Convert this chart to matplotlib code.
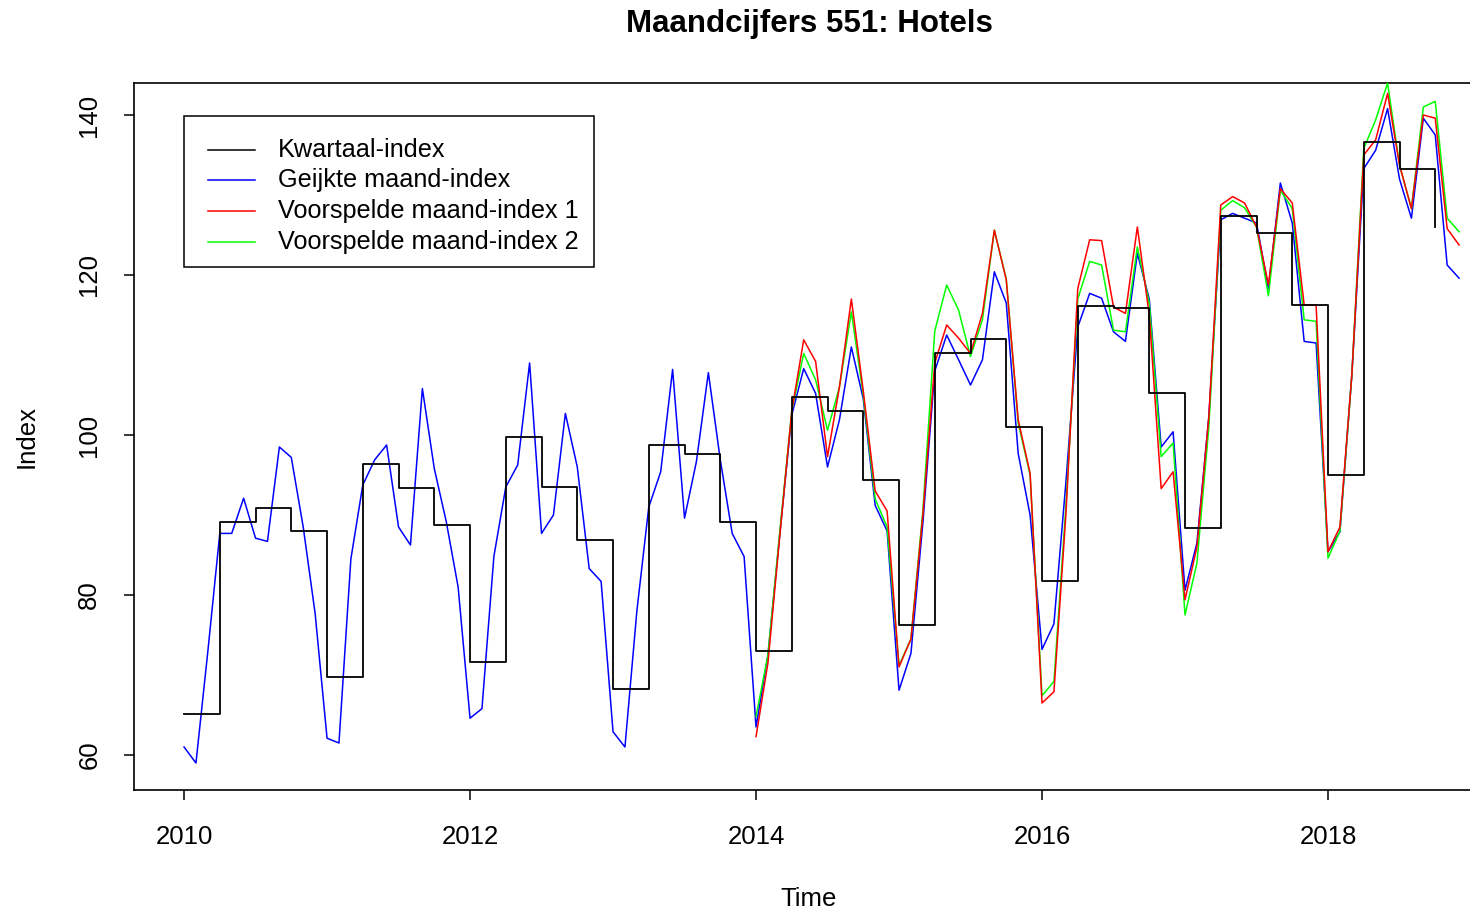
import numpy as np
import matplotlib
matplotlib.use("Agg")
import matplotlib.pyplot as plt
from matplotlib.patches import Rectangle
from matplotlib.lines import Line2D

plt.rcParams['font.family'] = ['Liberation Sans', 'DejaVu Sans']

# ---------------- data ----------------
title = "Maandcijfers 551: Hotels"
x_label = "Time"
y_label = "Index"
legend_labels = ["Kwartaal-index", "Geijkte maand-index",
                 "Voorspelde maand-index 1", "Voorspelde maand-index 2"]
colors = ["black", "#0000FF", "#FF0000", "#00FF00"]

start_year = 2010
# quarterly index (Q1 2010 .. Q4 2018)
kwartaal = [65.1, 89.1, 90.9, 88.0,
            69.7, 96.4, 93.4, 88.7,
            71.6, 99.75, 93.5, 86.9,
            68.3, 98.75, 97.6, 89.1,
            73.0, 104.7, 103.0, 94.4,
            76.2, 110.2, 112.0, 101.0,
            81.8, 116.1, 115.9, 105.3,
            88.4, 127.4, 125.25, 116.2,
            95.0, 136.6, 133.25, 126.0]

# calibrated monthly index (Jan 2010 .. Dec 2018)
geijkt = [61.0, 59.0, 73.0, 87.7, 87.7, 92.1, 87.1, 86.7, 98.5, 97.2, 88.5, 77.7,
          62.1, 61.5, 84.5, 93.75, 96.9, 98.75, 88.5, 86.25, 105.8, 95.8, 89.2, 81.0,
          64.6, 65.8, 84.8, 93.5, 96.25, 109.0, 87.7, 90.0, 102.7, 96.0, 83.3, 81.7,
          62.9, 61.0, 78.0, 91.0, 95.4, 108.2, 89.6, 96.7, 107.8, 96.9, 87.7, 84.8,
          63.5, 72.5, 87.7, 102.5, 108.3, 105.2, 96.0, 101.9, 111.0, 104.5, 91.2, 88.0,
          68.1, 72.7, 89.0, 108.0, 112.5, 109.4, 106.25, 109.4, 120.4, 116.5, 97.7, 90.0,
          73.2, 76.4, 94.0, 113.5, 117.7, 117.1, 112.9, 111.7, 122.7, 117.0, 98.5, 100.4,
          80.6, 86.5, 102.3, 126.9, 127.7, 127.1, 126.5, 118.3, 131.5, 126.5, 111.7, 111.5,
          85.4, 87.9, 107.5, 133.3, 135.6, 140.8, 132.0, 127.1, 139.6, 137.5, 121.25, 119.6]

# predicted monthly index 1 and 2 (Jan 2014 .. Dec 2018)
forecast_start = 2014
voorspeld1 = [62.3, 71.5, 87.5, 103.0, 111.9, 109.2, 97.3, 106.0, 117.0, 105.5, 93.0, 90.5,
              71.0, 74.5, 90.0, 109.0, 113.75, 112.1, 110.2, 115.2, 125.6, 119.4, 101.9, 95.2,
              66.5, 67.9, 90.0, 118.3, 124.4, 124.3, 116.0, 115.2, 126.0, 115.0, 93.3, 95.4,
              79.4, 86.0, 102.3, 128.75, 129.8, 129.0, 126.0, 118.8, 130.8, 129.0, 116.25, 116.25,
              85.4, 88.5, 107.5, 135.0, 136.9, 142.7, 133.75, 128.3, 140.0, 139.6, 125.8, 123.75]
voorspeld2 = [64.8, 72.5, 88.0, 103.0, 110.2, 106.9, 100.6, 106.0, 115.4, 105.0, 92.0, 88.5,
              71.2, 74.5, 90.5, 113.0, 118.75, 115.6, 109.8, 114.4, 125.6, 119.5, 101.5, 95.0,
              67.4, 69.2, 91.0, 117.0, 121.7, 121.25, 113.1, 112.9, 123.5, 116.5, 97.3, 99.0,
              77.5, 84.0, 101.0, 128.1, 129.3, 128.4, 126.0, 117.4, 130.6, 128.3, 114.4, 114.2,
              84.6, 88.0, 107.5, 135.8, 139.4, 144.0, 133.75, 128.3, 141.0, 141.7, 127.1, 125.4]

x_ticks = [2010, 2012, 2014, 2016, 2018]
y_ticks = [60, 80, 100, 120, 140]

# ---------------- figure ----------------
W, H = 1470, 913
fig = plt.figure(figsize=(W / 100, H / 100), dpi=100)

left_px, right_px, top_px, bot_px = 134, 1485.3, 83, 790
ax = fig.add_axes([left_px / W, 1 - bot_px / H,
                   (right_px - left_px) / W, (bot_px - top_px) / H])

tq = start_year + np.arange(len(kwartaal)) / 4.0
tm = start_year + np.arange(len(geijkt)) / 12.0
tf = forecast_start + np.arange(len(voorspeld1)) / 12.0

lw = 1.1
ax.plot(tm, geijkt, color=colors[1], lw=lw, zorder=2)
ax.plot(tf, voorspeld2, color=colors[3], lw=lw, zorder=3)
ax.plot(tf, voorspeld1, color=colors[2], lw=lw, zorder=4)
ax.step(tq, kwartaal, where='post', color=colors[0], lw=1.3, zorder=5)

ax.set_xlim(2009.650, 2019.100)
ax.set_ylim(55.625, 144.0)

for s in ax.spines.values():
    s.set_linewidth(1.2)
    s.set_color('black')

ax.set_xticks(x_ticks)
ax.set_xticklabels([str(v) for v in x_ticks])
ax.set_yticks(y_ticks)
ax.set_yticklabels([str(v) for v in y_ticks], rotation=90, va='center')
ax.tick_params(axis='both', length=7.5, width=1.1, labelsize=18.5, color='black')
ax.tick_params(axis='x', pad=17.5)
ax.tick_params(axis='y', pad=16)

fig.text(809 / W, 1 - 24 / H, title, ha='center', va='center',
         fontsize=22.5, fontweight='bold')
fig.text(809 / W, 1 - 899 / H, x_label, ha='center', va='center', fontsize=18.5)
fig.text(27 / W, 1 - 436 / H, y_label, ha='center', va='center', fontsize=18.5,
         rotation=90)

# legend (drawn in figure pixel coordinates)
def fx(px):
    return px / W

def fy(py):
    return 1 - py / H

fig.patches.append(Rectangle((fx(184), fy(267)), fx(594) - fx(184), fy(116) - fy(267),
                             transform=fig.transFigure, fill=False,
                             edgecolor='black', lw=1.1, zorder=10))
rows = [150, 180, 211, 242]
for lab, col, ry in zip(legend_labels, colors, rows):
    fig.lines.append(Line2D([fx(208), fx(255)], [fy(ry), fy(ry)],
                            transform=fig.transFigure, color=col, lw=1.1))
    fig.text(fx(278), fy(ry), lab, ha='left', va='center', fontsize=18.2)

fig.savefig("out.png", dpi=100)
